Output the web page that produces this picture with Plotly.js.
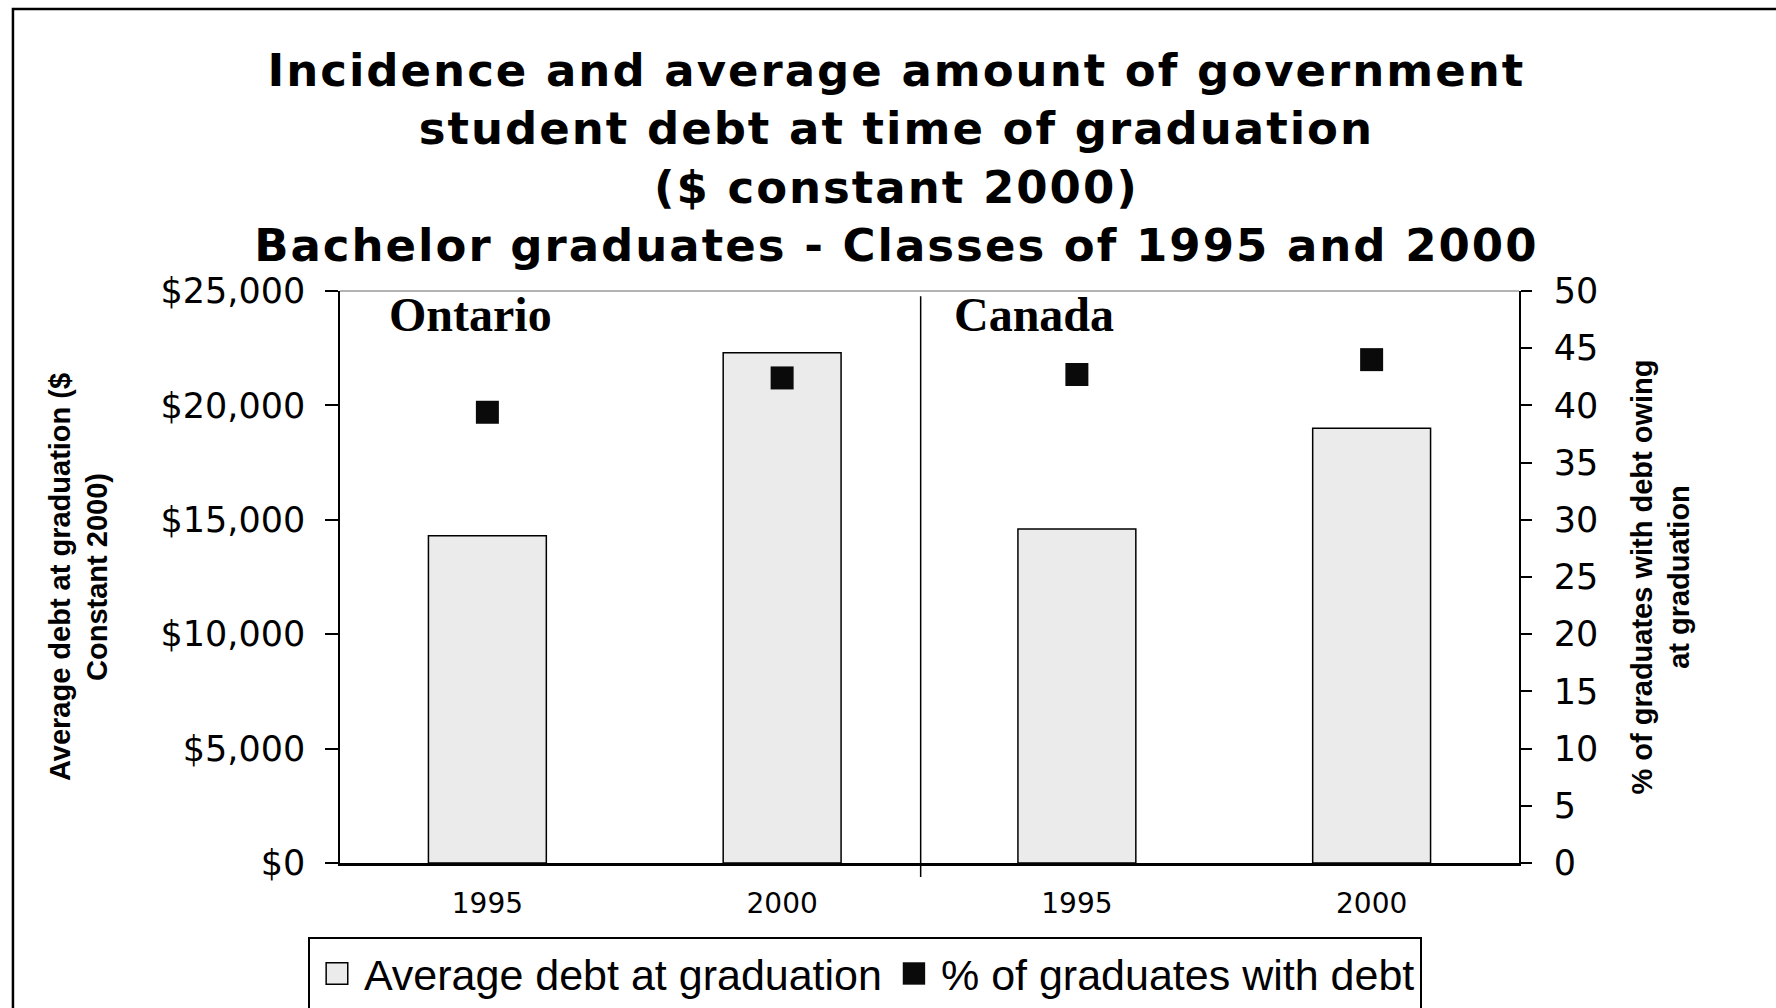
<!DOCTYPE html>
<html>
<head>
<meta charset="utf-8">
<script src="https://cdn.plot.ly/plotly-3.0.1.min.js"></script>
<style>
  html, body { margin: 0; padding: 0; background: #fff; }
  #chart { width: 1776px; height: 1008px; }
  .legend .legendpoints path { vector-effect: non-scaling-stroke; }
  /* the heading is set slightly tracked out */
  .gtitle { letter-spacing: 2px; }
</style>
</head>
<body>
<div id="chart"></div>
<script>
// Government student debt at graduation, bachelor graduates ($ constant 2000)
const regions = ['Ontario', 'Ontario', 'Canada', 'Canada'];
const years = ['1995', '2000', '1995', '2000'];
const avgDebt = [14300, 22300, 14600, 19000];        // average debt at graduation ($)
const pctWithDebt = [39.4, 42.4, 42.7, 44.0];        // % of graduates with debt owing
const regionLabels = ['Ontario', 'Canada'];

const xIdx = years.map((_, i) => i);
const boundaries = [-0.5, 0.5, 1.5, 2.5, 3.5];

const tickFont = { family: 'DejaVu Sans', size: 35, color: '#000' };
const axisTitleFont = { family: 'Liberation Sans, Arial', size: 29, color: '#000', weight: 'bold' };
const regionFont = { family: 'Liberation Serif, Times New Roman', size: 48, color: '#000', weight: 'bold' };

const traces = [
  {
    type: 'bar',
    name: 'Average debt at graduation',
    x: xIdx,
    y: avgDebt,
    customdata: regions,
    marker: { color: '#ebebeb', line: { color: '#000', width: 1.5 } },
    xaxis: 'x', yaxis: 'y',
    hovertemplate: '%{customdata}: $%{y:,}<extra></extra>'
  },
  {
    type: 'scatter',
    mode: 'markers',
    name: '% of graduates with debt',
    x: xIdx,
    y: pctWithDebt,
    customdata: regions,
    marker: { symbol: 'square', size: 23, color: '#0a0a0a' },
    xaxis: 'x', yaxis: 'y2',
    hovertemplate: '%{customdata}: %{y}%<extra></extra>'
  }
];

// the two region panels are split by a rule just left of the middle category boundary
const dividerX = 1.47;

const layout = {
  width: 1776,
  height: 1008,
  paper_bgcolor: '#fff',
  plot_bgcolor: '#fff',
  margin: { l: 340, r: 257, t: 291, b: 145, pad: 0, autoexpand: false },
  showlegend: true,
  bargap: 0.6,
  title: {
    text: 'Incidence and average amount of government<br>student debt at time of graduation<br>($ constant 2000)<br>Bachelor graduates - Classes of 1995 and 2000',
    font: { family: 'DejaVu Sans', size: 45, color: '#000', weight: 'bold' },
    xref: 'container', x: 0.5047, xanchor: 'center',
    yref: 'container', y: 0.915, yanchor: 'top'
  },
  xaxis: {
    domain: [0, 1],
    range: [-0.5, 3.5],
    tickmode: 'array',
    tickvals: xIdx,
    ticktext: years,
    ticks: '',
    tickfont: { family: 'DejaVu Sans', size: 28, color: '#000' },
    ticklabelstandoff: 14,
    showline: true, linecolor: '#000', linewidth: 2.5,
    showgrid: false, zeroline: false, fixedrange: true
  },
  // category boundary ticks, drawn across the axis line
  xaxis2: {
    overlaying: 'x', matches: 'x', anchor: 'y', side: 'bottom',
    tickmode: 'array', tickvals: boundaries,
    ticks: 'outside', ticklen: 9, tickwidth: 1.5, tickcolor: '#000',
    showticklabels: false, showline: false, showgrid: false, zeroline: false
  },
  xaxis3: {
    overlaying: 'x', matches: 'x', anchor: 'y', side: 'bottom',
    tickmode: 'array', tickvals: boundaries.slice(1, -1),
    ticks: 'inside', ticklen: 9, tickwidth: 1.5, tickcolor: '#000',
    showticklabels: false, showline: false, showgrid: false, zeroline: false
  },
  yaxis: {
    range: [0, 25000],
    tick0: 0, dtick: 5000,
    tickprefix: '$', tickformat: ',d',
    ticks: 'outside', ticklen: 13, tickwidth: 1.5, tickcolor: '#000',
    tickfont: tickFont,
    ticklabelstandoff: 13,
    showline: true, linecolor: '#000', linewidth: 1.5,
    showgrid: false, zeroline: false, fixedrange: true,
    title: {
      text: 'Average debt at graduation ($<br>Constant 2000)',
      font: axisTitleFont,
      standoff: 44
    }
  },
  yaxis3: {
    overlaying: 'y', matches: 'y', anchor: 'x', side: 'left',
    tick0: 0, dtick: 5000,
    ticks: 'inside', ticklen: 12, tickwidth: 1.5, tickcolor: '#000',
    showticklabels: false, showline: false, showgrid: false, zeroline: false
  },
  yaxis2: {
    overlaying: 'y', anchor: 'x', side: 'right',
    range: [0, 50],
    tick0: 0, dtick: 5,
    ticks: 'outside', ticklen: 11, tickwidth: 1.5, tickcolor: '#000',
    tickfont: tickFont,
    ticklabelstandoff: 15,
    showline: true, linecolor: '#000', linewidth: 1.5,
    showgrid: false, zeroline: false, fixedrange: true,
    title: {
      text: '% of graduates with debt owing<br>at graduation',
      font: axisTitleFont,
      standoff: 34
    }
  },
  yaxis4: {
    overlaying: 'y', matches: 'y2', anchor: 'x', side: 'right',
    tick0: 0, dtick: 5,
    ticks: 'inside', ticklen: 11, tickwidth: 1.5, tickcolor: '#000',
    showticklabels: false, showline: false, showgrid: false, zeroline: false
  },
  legend: {
    orientation: 'h',
    xref: 'container', x: 0.1734, xanchor: 'left',
    yref: 'container', y: 0.0342, yanchor: 'middle',
    font: { family: 'Liberation Sans, Arial', size: 43, color: '#000' },
    bordercolor: '#000', borderwidth: 2,
    bgcolor: '#fff',
    itemwidth: 44
  },
  annotations: [
    {
      text: regionLabels[0], xref: 'x', x: -0.342, xanchor: 'left',
      yref: 'paper', y: 1.009, yanchor: 'top', showarrow: false,
      font: regionFont
    },
    {
      text: regionLabels[1], xref: 'x', x: 1.578, xanchor: 'left',
      yref: 'paper', y: 1.009, yanchor: 'top', showarrow: false,
      font: regionFont
    }
  ],
  shapes: [
    // thin grey rule along the top of the plot area
    { type: 'line', xref: 'paper', yref: 'paper', x0: 0, x1: 1, y0: 1, y1: 1,
      line: { color: '#9a9a9a', width: 1.5 } },
    // divider between the Ontario and Canada panels
    { type: 'line', xref: 'x', yref: 'paper', x0: dividerX, x1: dividerX, y0: -0.0245, y1: 0.991,
      line: { color: '#000', width: 1.5 } },
    // outer chart frame
    { type: 'rect', xref: 'paper', yref: 'paper', x0: -0.2774, x1: 1.3, y0: -0.35, y1: 1.493,
      line: { color: '#000', width: 2.5 }, fillcolor: 'rgba(0,0,0,0)' }
  ]
};

Plotly.newPlot('chart', traces, layout, { displayModeBar: false, responsive: false }).then(gd => {
  // enlarge the legend swatches so they sit in proportion with the legend text
  const scales = [1.8, 1.4];
  gd.querySelectorAll('.legend .traces').forEach((g, i) => {
    g.querySelectorAll('.legendpoints path').forEach(p => {
      const t = p.getAttribute('transform') || '';
      p.setAttribute('transform', t + ' scale(' + (scales[i] || 1) + ')');
    });
  });
});
</script>
</body>
</html>
